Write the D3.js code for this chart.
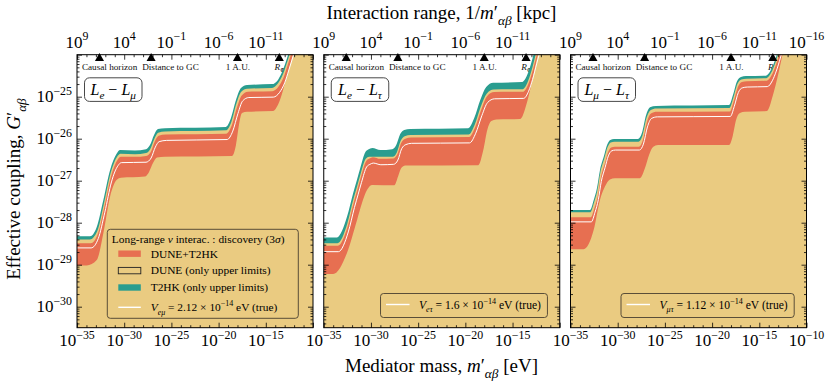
<!DOCTYPE html>
<html>
<head>
<meta charset="utf-8">
<style>
body { margin: 0; background: #fff; }
svg { display: block; font-family: "Liberation Serif", "DejaVu Serif", serif; }
</style>
</head>
<body>
<svg id="chart" width="830" height="384"></svg>
<script src="https://cdn.jsdelivr.net/npm/d3@7"></script>
<script>
// curves as [log10 mass (eV), log10 coupling]
var emuT2HK = [[-35,-28.32],[-33.62,-28.32],[-32.91,-28.10],[-32.21,-27.46],[-31.50,-26.75],[-30.79,-26.35],[-30.44,-26.27],[-28.86,-26.28],[-27.69,-26.25],[-27.27,-26.15],[-26.84,-25.91],[-26.42,-25.77],[-25.68,-25.75],[-19.22,-25.72],[-18.69,-25.51],[-18.16,-25.08],[-17.63,-24.79],[-16.99,-24.72],[-14.34,-24.70],[-13.71,-24.60],[-13.18,-24.36],[-12.75,-24.08],[-12.33,-23.77],[-11.6,-23.2],[-10,-22.0]];
var emuDUNE = [[-35,-28.40],[-33.62,-28.40],[-32.85,-28.2],[-32.15,-27.55],[-31.45,-26.83],[-30.75,-26.43],[-30.4,-26.36],[-28.86,-26.37],[-27.69,-26.34],[-27.25,-26.25],[-26.8,-26.0],[-26.4,-25.86],[-25.68,-25.83],[-19.22,-25.80],[-18.65,-25.6],[-18.12,-25.17],[-17.6,-24.88],[-16.99,-24.81],[-14.34,-24.79],[-13.7,-24.68],[-13.15,-24.45],[-12.7,-24.15],[-12.28,-23.85],[-11.55,-23.3],[-10,-22.1]];
var emuHi = [[-35,-28.49],[-33.55,-28.49],[-32.8,-28.27],[-32.1,-27.62],[-31.4,-26.9],[-30.7,-26.5],[-30.35,-26.43],[-28.86,-26.43],[-27.69,-26.41],[-27.2,-26.32],[-26.75,-26.06],[-26.35,-25.93],[-25.6,-25.90],[-19.2,-25.88],[-18.6,-25.68],[-18.05,-25.25],[-17.55,-24.97],[-16.9,-24.88],[-14.3,-24.87],[-13.65,-24.76],[-13.1,-24.53],[-12.65,-24.22],[-12.2,-23.9],[-11.5,-23.35],[-10,-22.2]];
var emuTrue = [[-35,-28.60],[-33.5,-28.60],[-32.75,-28.38],[-32.05,-27.75],[-31.35,-27.03],[-30.65,-26.64],[-30.3,-26.57],[-27.69,-26.56],[-27.15,-26.46],[-26.7,-26.2],[-26.3,-26.07],[-25.5,-26.04],[-19.1,-26.02],[-18.5,-25.82],[-17.95,-25.40],[-17.45,-25.1],[-16.8,-25.02],[-14.2,-25.01],[-13.55,-24.9],[-13.0,-24.67],[-12.55,-24.36],[-12.1,-24.03],[-11.4,-23.5],[-10,-22.3]];
var emuLo = [[-35,-29.02],[-33.97,-29.02],[-32.91,-28.89],[-32.21,-28.25],[-31.50,-27.38],[-30.79,-26.98],[-30.34,-26.93],[-27.80,-26.90],[-27.37,-26.79],[-26.95,-26.58],[-26.53,-26.45],[-25.68,-26.43],[-18.58,-26.41],[-18.16,-26.15],[-17.84,-25.67],[-17.52,-25.39],[-16.99,-25.36],[-14.24,-25.34],[-13.5,-25.08],[-12.75,-24.49],[-12.12,-24.01],[-11.36,-23.41],[-10,-22.3]];

var etauT2HK = [[-35,-28.35],[-33.60,-28.35],[-32.54,-27.86],[-31.88,-27.29],[-31.48,-26.98],[-31.13,-26.70],[-30.60,-26.32],[-30.29,-26.26],[-29.86,-26.22],[-29.01,-26.27],[-27.74,-26.25],[-27.32,-26.15],[-26.90,-25.89],[-26.47,-25.79],[-25.84,-25.77],[-19.69,-25.75],[-19.06,-25.51],[-18.42,-25.08],[-17.79,-24.77],[-17.05,-24.67],[-13.97,-24.65],[-13.44,-24.48],[-13.02,-24.2],[-12.6,-23.84],[-12.07,-23.41],[-10,-21.8]];
var etauDUNE = [[-35,-28.49],[-33.55,-28.49],[-32.5,-28.02],[-31.85,-27.43],[-31.45,-27.12],[-31.1,-26.84],[-30.55,-26.48],[-30.2,-26.43],[-27.7,-26.43],[-27.25,-26.32],[-26.85,-26.05],[-26.42,-25.94],[-25.8,-25.91],[-19.65,-25.90],[-19.0,-25.66],[-18.37,-25.24],[-17.74,-24.93],[-17.0,-24.83],[-13.92,-24.82],[-13.4,-24.65],[-12.98,-24.37],[-12.56,-24.0],[-12.02,-23.55],[-10,-21.9]];
var etauHi = [[-35,-28.55],[-33.5,-28.55],[-32.45,-28.08],[-31.8,-27.5],[-31.4,-27.18],[-31.05,-26.9],[-30.5,-26.53],[-30.15,-26.47],[-29.8,-26.44],[-29.0,-26.48],[-27.65,-26.47],[-27.2,-26.37],[-26.8,-26.1],[-26.35,-26.0],[-25.75,-25.97],[-19.6,-25.96],[-18.95,-25.72],[-18.3,-25.3],[-17.7,-24.99],[-16.95,-24.89],[-13.87,-24.88],[-13.35,-24.71],[-12.93,-24.43],[-12.5,-24.06],[-11.95,-23.6],[-10,-22.0]];
var etauTrue = [[-35,-28.69],[-33.45,-28.69],[-32.4,-28.22],[-31.75,-27.64],[-31.35,-27.32],[-31.0,-27.04],[-30.45,-26.67],[-30.1,-26.61],[-29.75,-26.58],[-28.95,-26.62],[-27.6,-26.61],[-27.15,-26.51],[-26.75,-26.24],[-26.3,-26.14],[-25.7,-26.11],[-19.55,-26.10],[-18.9,-25.87],[-18.25,-25.45],[-17.65,-25.14],[-16.9,-25.05],[-13.82,-25.04],[-13.3,-24.87],[-12.88,-24.59],[-12.45,-24.22],[-11.9,-23.76],[-10,-22.1]];
var etauLo = [[-35,-29.22],[-34.0,-29.22],[-32.54,-28.72],[-31.48,-27.94],[-30.95,-27.53],[-30.42,-27.22],[-29.86,-27.10],[-27.53,-27.11],[-27.11,-26.89],[-26.79,-26.70],[-26.37,-26.64],[-18.63,-26.63],[-18.1,-26.27],[-17.68,-25.79],[-17.25,-25.58],[-16.72,-25.54],[-14.18,-25.53],[-13.55,-25.2],[-13.02,-24.72],[-12.49,-24.17],[-11.96,-23.65],[-10,-21.9]];

var mutauT2HK = [[-35,-27.70],[-32.93,-27.70],[-32.54,-27.46],[-32.19,-27.17],[-31.88,-26.75],[-31.48,-26.43],[-31.13,-26.15],[-30.78,-26.03],[-30.39,-26.01],[-27.85,-26.01],[-27.43,-25.86],[-27.0,-25.44],[-26.58,-25.25],[-25.94,-25.22],[-18.21,-25.20],[-17.79,-24.96],[-17.36,-24.63],[-16.94,-24.53],[-16.41,-24.51],[-14.29,-24.50],[-13.76,-24.36],[-13.34,-24.13],[-12.91,-23.82],[-12.38,-23.36],[-10,-21.5]];
var mutauDUNE = [[-35,-27.75],[-32.9,-27.75],[-32.5,-27.52],[-32.15,-27.23],[-31.84,-26.81],[-31.44,-26.49],[-31.09,-26.21],[-30.74,-26.09],[-30.35,-26.07],[-27.8,-26.07],[-27.38,-25.93],[-26.95,-25.51],[-26.53,-25.32],[-25.9,-25.28],[-18.17,-25.27],[-17.75,-25.03],[-17.32,-24.70],[-16.9,-24.59],[-16.37,-24.57],[-14.25,-24.56],[-13.72,-24.42],[-13.3,-24.19],[-12.87,-23.88],[-12.34,-23.42],[-10,-21.6]];
var mutauHi = [[-35,-27.87],[-32.85,-27.87],[-32.45,-27.64],[-32.1,-27.35],[-31.79,-26.93],[-31.39,-26.61],[-31.04,-26.33],[-30.69,-26.21],[-30.3,-26.19],[-27.75,-26.19],[-27.33,-26.03],[-26.9,-25.6],[-26.48,-25.40],[-25.85,-25.36],[-18.12,-25.35],[-17.7,-25.1],[-17.27,-24.77],[-16.85,-24.65],[-16.32,-24.63],[-14.2,-24.62],[-13.67,-24.48],[-13.25,-24.25],[-12.82,-23.94],[-12.29,-23.48],[-10,-21.7]];
var mutauTrue = [[-35,-27.98],[-32.8,-27.98],[-32.4,-27.75],[-32.05,-27.45],[-31.74,-27.02],[-31.34,-26.69],[-30.99,-26.41],[-30.64,-26.29],[-30.25,-26.27],[-27.7,-26.27],[-27.28,-26.13],[-26.85,-25.72],[-26.43,-25.52],[-25.8,-25.48],[-18.07,-25.47],[-17.65,-25.23],[-17.22,-24.9],[-16.8,-24.79],[-16.27,-24.77],[-14.15,-24.76],[-13.62,-24.62],[-13.2,-24.39],[-12.77,-24.08],[-12.24,-23.62],[-10,-21.8]];
var mutauLo = [[-35,-28.63],[-33.60,-28.63],[-32.54,-28.17],[-31.88,-27.46],[-31.35,-27.14],[-30.82,-26.97],[-30.29,-26.94],[-27.64,-26.94],[-27.11,-26.70],[-26.68,-26.39],[-26.26,-26.20],[-25.73,-26.15],[-18.21,-26.15],[-17.79,-25.91],[-17.47,-25.56],[-17.05,-25.39],[-16.52,-25.36],[-14.19,-25.34],[-13.55,-24.96],[-13.02,-24.49],[-12.49,-23.94],[-11.96,-23.41],[-10,-21.6]];

var trueV = ["2.12", "1.6", "1.12"];
var flavours = [["e", "μ"], ["e", "τ"], ["μ", "τ"]];

// ticks (exponents)
var massTicks = [-35, -30, -25, -20, -15, -10];
var rangeTicks = [9, 4, -1, -6, -11, -16];
var couplingTicks = [-30, -29, -28, -27, -26, -25];

// markers along the top: log10 mass of triangle, log10 mass of label centre
var markerNames = ["Causal horizon", "Distance to GC", "1 A.U.", "R"];
var markerMass = [-32.62, -27.15, -18.0, -13.57];
var markerLabelMass = [-31.55, -25.1, -17.95, -13.5];

var tan = "#EACB81", coral = "#E76F51", teal = "#2A9D8F";

var svg = d3.select("#chart");
var yTop = 54.7, yBot = 327.7, pw = 236;
var y = d3.scaleLog().domain([Math.pow(10, -30.5), 1e-24]).range([yBot, yTop]);

function p10(e) { return Math.pow(10, e); }

// text with italic / sub / sup pieces
function rich(sel, parts, size) {
  var shift = 0;
  parts.forEach(function(p) {
    var s = p[0], k = p[1] || "";
    var t = sel.append("tspan").text(s);
    var target = 0, fs = size;
    if (k.indexOf("sub") >= 0) { target = size * 0.3; fs = size * 0.7; }
    if (k.indexOf("sup") >= 0) { target = -size * 0.42; fs = size * 0.7; }
    if (k[0] == "i") t.attr("font-style", "italic");
    t.attr("font-size", fs);
    if (target - shift != 0) t.attr("dy", target - shift);
    shift = target;
  });
  return sel;
}

var panels = [
  {t2hk: emuT2HK, dune: emuDUNE, hi: emuHi, truth: emuTrue, lo: emuLo},
  {t2hk: etauT2HK, dune: etauDUNE, hi: etauHi, truth: etauTrue, lo: etauLo},
  {t2hk: mutauT2HK, dune: mutauDUNE, hi: mutauHi, truth: mutauTrue, lo: mutauLo}
];

panels.forEach(function(P, i) {
  var x0 = 77 + i * 246.75, x1 = x0 + pw;
  var x = d3.scaleLog().domain([1e-35, 1e-10]).range([x0, x1]);
  var xt = d3.scaleLog().domain([1e9, 1e-16]).range([x0, x1]);
  var g = svg.append("g");

  g.append("clipPath").attr("id", "clip" + i)
    .append("rect").attr("x", x0).attr("y", yTop).attr("width", pw).attr("height", yBot - yTop);

  // marker labels sit under the filled regions
  markerNames.forEach(function(n, k) {
    var t = g.append("text").attr("x", x(p10(markerLabelMass[k]))).attr("y", 69.5)
      .attr("text-anchor", "middle").attr("font-size", 9.2).attr("fill", "#111");
    if (n == "R") rich(t, [["R", "i"], ["⊕", "sub"]], 9.2);
    else t.text(n);
  });

  var plot = g.append("g").attr("clip-path", "url(#clip" + i + ")");
  var area = d3.area()
    .x(function(d) { return x(p10(d[0])); })
    .y0(yBot + 2)
    .y1(function(d) { return y(p10(d[1])); })
    .curve(d3.curveMonotoneX);
  var line = d3.line()
    .x(function(d) { return x(p10(d[0])); })
    .y(function(d) { return y(p10(d[1])); })
    .curve(d3.curveMonotoneX);

  plot.append("path").attr("d", area(P.t2hk)).attr("fill", teal);
  plot.append("path").attr("d", area(P.dune)).attr("fill", tan);
  plot.append("path").attr("d", area(P.hi)).attr("fill", coral);
  plot.append("path").attr("d", area(P.lo)).attr("fill", tan);
  plot.append("path").attr("d", line(P.truth)).attr("fill", "none")
    .attr("stroke", "#fff").attr("stroke-width", 1);

  // triangles
  markerMass.forEach(function(m) {
    var cx = x(p10(m));
    g.append("path").attr("d", d3.symbol(d3.symbolTriangle, 36)())
      .attr("transform", "translate(" + cx + "," + (yTop + 3.6) + ")").attr("fill", "#000");
  });

  // panel label
  var lb = g.append("g");
  lb.append("rect").attr("x", x0 + 7.5).attr("y", 77.8).attr("width", 57.5).attr("height", 23.6)
    .attr("rx", 5).attr("fill", "#fff").attr("stroke", "#333").attr("stroke-width", 0.9);
  rich(lb.append("text").attr("x", x0 + 36.2).attr("y", 94.5).attr("text-anchor", "middle").attr("font-size", 16),
    [["L", "i"], [flavours[i][0], "isub"], [" − ", ""], ["L", "i"], [flavours[i][1], "isub"]], 16);

  // legend
  var vParts = [["V", "i"], [flavours[i][0] + flavours[i][1], "isub"], [" = " + trueV[i] + " × 10", ""], ["−14", "sup"], [" eV (true)", ""]];
  var lg = g.append("g");
  if (i == 0) {
    var bx = x0 + 30.3, by = 229.3, bw = 191, bh = 89;
    lg.append("rect").attr("x", bx).attr("y", by).attr("width", bw).attr("height", bh).attr("rx", 3)
      .attr("fill", tan).attr("stroke", "#4a4030").attr("stroke-width", 0.9);
    rich(lg.append("text").attr("x", bx + 4.5).attr("y", by + 14).attr("font-size", 11.4),
      [["Long-range ", ""], ["ν", "i"], [" interac. : discovery (3", ""], ["σ", "i"], [")", ""]], 11.4);
    var rows = [
      {kind: "patch", fill: coral, stroke: "none", label: [["DUNE+T2HK", ""]]},
      {kind: "patch", fill: tan, stroke: "#222", label: [["DUNE (only upper limits)", ""]]},
      {kind: "patch", fill: teal, stroke: "none", label: [["T2HK (only upper limits)", ""]]},
      {kind: "line", label: vParts}
    ];
    var rowY = [253.7, 270.6, 287.5, 307.3];
    rows.forEach(function(r, k) {
      var cy = rowY[k];
      if (r.kind == "patch") {
        lg.append("rect").attr("x", bx + 11).attr("y", cy - 3.2).attr("width", 22.5).attr("height", 6.4)
          .attr("fill", r.fill).attr("stroke", r.stroke).attr("stroke-width", 0.9);
      } else {
        lg.append("line").attr("x1", bx + 11).attr("x2", bx + 33.5).attr("y1", cy).attr("y2", cy)
          .attr("stroke", "#fff").attr("stroke-width", 1.4);
      }
      rich(lg.append("text").attr("x", bx + 43.4).attr("y", cy + 3.8).attr("font-size", 11.4), r.label, 11.4);
    });
  } else {
    var t = rich(lg.append("text").attr("font-size", 11.6), vParts, 11.6);
    var len = t.node().getComputedTextLength();
    var bw2 = len + 45, bxr = x1 - 12.3, bx2 = bxr - bw2, by2 = 293.5;
    t.attr("x", bx2 + 38.5).attr("y", by2 + 15);
    lg.insert("rect", "text").attr("x", bx2).attr("y", by2).attr("width", bw2).attr("height", 24).attr("rx", 3)
      .attr("fill", tan).attr("stroke", "#4a4030").attr("stroke-width", 0.9);
    lg.append("line").attr("x1", bx2 + 5.5).attr("x2", bx2 + 29).attr("y1", by2 + 11).attr("y2", by2 + 11)
      .attr("stroke", "#fff").attr("stroke-width", 1.4);
  }

  // axes: inward ticks on all four sides
  function clean(sel) {
    sel.select(".domain").remove();
    sel.selectAll("text").remove();
    sel.selectAll("line").attr("stroke", "#000").attr("stroke-width", 0.8);
  }
  var minorMass = d3.range(-34, -10).filter(function(e) { return e % 5 != 0; }).map(p10);
  var minorRange = d3.range(8, -16, -1).filter(function(e) { return (e - 9) % 5 != 0; }).map(p10);
  var minorY = [];
  d3.range(-31, -24).forEach(function(n) {
    d3.range(2, 10).forEach(function(k) {
      var v = k * p10(n);
      if (v > p10(-30.5) && v < 1e-24) minorY.push(v);
    });
  });
  var majorY = d3.range(-30, -23).map(p10);

  g.append("g").attr("transform", "translate(0," + yBot + ")")
    .call(d3.axisBottom(x).tickValues(massTicks.map(p10)).tickSize(-5).tickFormat("")).call(clean);
  g.append("g").attr("transform", "translate(0," + yBot + ")")
    .call(d3.axisBottom(x).tickValues(minorMass).tickSize(-2.5).tickFormat("")).call(clean);
  g.append("g").attr("transform", "translate(0," + yTop + ")")
    .call(d3.axisTop(xt).tickValues(rangeTicks.map(p10)).tickSize(-5).tickFormat("")).call(clean);
  g.append("g").attr("transform", "translate(0," + yTop + ")")
    .call(d3.axisTop(xt).tickValues(minorRange).tickSize(-2.5).tickFormat("")).call(clean);
  g.append("g").attr("transform", "translate(" + x0 + ",0)")
    .call(d3.axisLeft(y).tickValues(majorY).tickSize(-5).tickFormat("")).call(clean);
  g.append("g").attr("transform", "translate(" + x0 + ",0)")
    .call(d3.axisLeft(y).tickValues(minorY).tickSize(-2.5).tickFormat("")).call(clean);
  g.append("g").attr("transform", "translate(" + x1 + ",0)")
    .call(d3.axisRight(y).tickValues(majorY).tickSize(-5).tickFormat("")).call(clean);
  g.append("g").attr("transform", "translate(" + x1 + ",0)")
    .call(d3.axisRight(y).tickValues(minorY).tickSize(-2.5).tickFormat("")).call(clean);

  g.append("rect").attr("x", x0).attr("y", yTop).attr("width", pw).attr("height", yBot - yTop)
    .attr("fill", "none").attr("stroke", "#000").attr("stroke-width", 1);

  // tick labels
  massTicks.forEach(function(e) {
    if (e == -10 && i < 2) return;
    rich(g.append("text").attr("x", x(p10(e))).attr("y", 346).attr("text-anchor", "middle").attr("font-size", 17),
      [["10", ""], [String(e).replace("-", "−"), "sup"]], 17);
  });
  rangeTicks.forEach(function(e) {
    if (e == -16 && i < 2) return;
    rich(g.append("text").attr("x", xt(p10(e))).attr("y", 47.5).attr("text-anchor", "middle").attr("font-size", 17),
      [["10", ""], [String(e).replace("-", "−"), "sup"]], 17);
  });
  if (i == 0) {
    couplingTicks.forEach(function(e) {
      rich(g.append("text").attr("x", x0 - 5).attr("y", y(p10(e)) + 5.5).attr("text-anchor", "end").attr("font-size", 17),
        [["10", ""], [String(e).replace("-", "−"), "sup"]], 17);
    });
  }
});

// axis titles
rich(svg.append("text").attr("x", 441.5).attr("y", 19).attr("text-anchor", "middle").attr("font-size", 19),
  [["Interaction range, 1/", ""], ["m", "i"], ["′", ""], ["αβ", "isub"], [" [kpc]", ""]], 19);
rich(svg.append("text").attr("x", 441.5).attr("y", 372).attr("text-anchor", "middle").attr("font-size", 19),
  [["Mediator mass, ", ""], ["m", "i"], ["′", ""], ["αβ", "isub"], [" [eV]", ""]], 19);
rich(svg.append("text").attr("transform", "translate(20,189) rotate(-90)").attr("text-anchor", "middle").attr("font-size", 19),
  [["Effective coupling, ", ""], ["G", "i"], ["′", ""], ["αβ", "isub"]], 19);
</script>
</body>
</html>
